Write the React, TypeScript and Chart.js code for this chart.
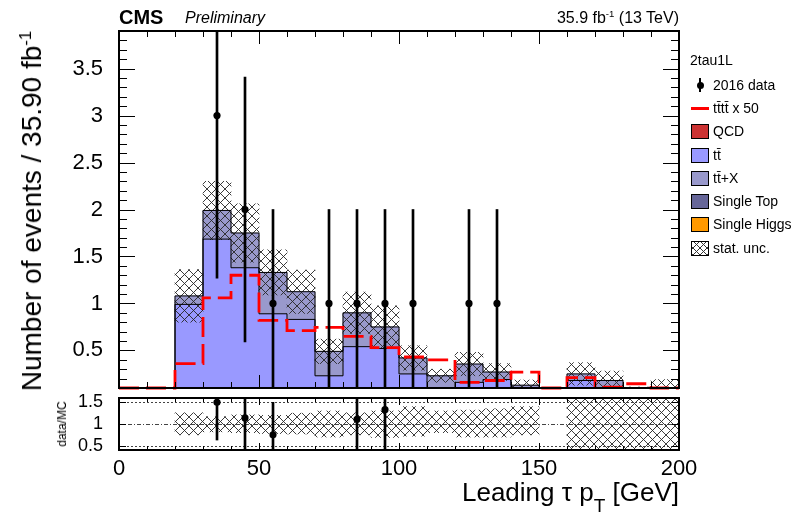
import React, { useEffect, useRef } from 'react';
import { Chart, registerables } from 'chart.js';
Chart.register(...registerables);

// ---- data ----
const binEdges = [0, 10, 20, 30, 40, 50, 60, 70, 80, 90, 100, 110, 120, 130, 140, 150, 160, 170, 180, 190, 200];
const ttbar = [0, 0, 0.99, 1.685, 1.38, 0.89, 0.83, 0.23, 0.54, 0.52, 0.25, 0.08, 0.16, 0.19, 0.05, 0, 0.18, 0.06, 0.02, 0.03];
const ttX = [0, 0, 0.09, 0.305, 0.37, 0.44, 0.295, 0.26, 0.36, 0.23, 0.17, 0.15, 0.195, 0.08, 0.08, 0, 0.07, 0.12, 0.03, 0.04];
const statUnc = [0, 0, 0.28, 0.31, 0.31, 0.24, 0.23, 0.13, 0.22, 0.225, 0.13, 0.07, 0.125, 0.09, 0.055, 0, 0.12, 0.1, 0.06, 0.12];
const tttt50 = [0, 0, 0.36, 1.06, 1.3, 0.82, 0.71, 0.745, 0.65, 0.53, 0.43, 0.4, 0.16, 0.18, 0.27, 0, 0.21, 0.11, 0.145, 0];

const dataX = [35, 45, 55, 75, 85, 95, 105, 125, 135];
const dataY = [3, 2, 1, 1, 1, 1, 1, 1, 1];
const dataErr = [1.73, 1.41, 1, 1, 1, 1, 1, 1, 1];

const ratioX = [35, 45, 55, 85, 95];
const ratioY = [1.5, 1.14, 0.75, 1.11, 1.33];
const ratioErr = [0.87, 0.81, 0.75, 1.11, 1.33];
const ratioBandLo = [null, null, 0.75, 0.82, 0.8, 0.78, 0.77, 0.7, 0.75, 0.69, 0.72, 0.8, 0.7, 0.7, 0.75, null, 0, 0, 0, 0];
const ratioBandHi = [null, null, 1.26, 1.17, 1.21, 1.2, 1.25, 1.3, 1.26, 1.3, 1.4, 1.3, 1.32, 1.35, 1.4, null, 2, 2, 2, 2];

const yTicksMain = [0.5, 1, 1.5, 2, 2.5, 3, 3.5];
const yTicksRatio = [0.5, 1, 1.5];
const xTicks = [0, 50, 100, 150, 200];

const Y_MIN = 0.1, Y_MAX = 3.9;
const R_MIN = 0.4, R_MAX = 1.6;
const FONT = "'Liberation Sans', Arial, Helvetica, sans-serif";

const COL_TT = '#9999ff';
const COL_TTX = '#9999cc';
const COL_ST = '#666699';
const COL_QCD = '#cc3333';
const COL_H = '#ff9900';

function hatch(size: number, color: string) {
  const c = document.createElement('canvas');
  c.width = size; c.height = size;
  const g = c.getContext('2d')!;
  g.strokeStyle = color; g.lineWidth = 1;
  g.beginPath();
  g.moveTo(0, 0); g.lineTo(size, size);
  g.moveTo(size, 0); g.lineTo(0, size);
  g.stroke();
  return g.createPattern(c, 'repeat');
}

function rangeStep(a: number, b: number, s: number) {
  const out: number[] = [];
  for (let v = a; v <= b + 1e-9; v += s) out.push(Math.round(v * 1000) / 1000);
  return out;
}

function framePlugin(cfg: any) {
  return {
    id: 'frameTicks',
    beforeDatasetsDraw(chart: any) {
      if (!cfg.refLines) return;
      const { ctx, chartArea: a, scales } = chart;
      ctx.save();
      ctx.strokeStyle = '#444';
      ctx.lineWidth = 1;
      for (const r of cfg.refLines) {
        ctx.setLineDash(r.dash);
        const py = Math.round(scales.y.getPixelForValue(r.v)) + 0.5;
        ctx.beginPath(); ctx.moveTo(a.left, py); ctx.lineTo(a.right, py); ctx.stroke();
      }
      ctx.restore();
    },
    afterDatasetsDraw(chart: any) {
      const { ctx, chartArea: a, scales } = chart;
      const xs = scales.x, ys = scales.y;
      ctx.save();
      ctx.strokeStyle = '#000';
      ctx.lineWidth = 1;
      ctx.beginPath();
      const xt = (vals: number[], len: number) => {
        for (const v of vals) {
          const px = Math.round(xs.getPixelForValue(v)) + 0.5;
          ctx.moveTo(px, a.bottom); ctx.lineTo(px, a.bottom - len);
          ctx.moveTo(px, a.top); ctx.lineTo(px, a.top + len);
        }
      };
      const yt = (vals: number[], len: number) => {
        for (const v of vals) {
          const py = Math.round(ys.getPixelForValue(v)) + 0.5;
          ctx.moveTo(a.left, py); ctx.lineTo(a.left + len, py);
          ctx.moveTo(a.right, py); ctx.lineTo(a.right - len, py);
        }
      };
      xt(cfg.xMinor, cfg.xMinorLen); xt(cfg.xMajor, cfg.xMajorLen);
      yt(cfg.yMinor, cfg.yMinorLen); yt(cfg.yMajor, cfg.yMajorLen);
      ctx.stroke();
      ctx.lineWidth = 2;
      ctx.strokeRect(a.left, a.top, a.right - a.left, a.bottom - a.top);
      ctx.restore();
    },
  };
}

const noPadY = (w: number) => (s: any) => { s.width = w; s.paddingTop = 0; s.paddingBottom = 0; };

export default function App() {
  const mainRef = useRef<HTMLCanvasElement>(null);
  const ratioRef = useRef<HTMLCanvasElement>(null);

  useEffect(() => {
    const centers = binEdges.slice(0, -1).map((e, i) => (e + binEdges[i + 1]) / 2);
    const total = ttbar.map((v, i) => v + ttX[i]);
    const hatchMain = hatch(9, 'rgba(40,40,40,0.9)');
    const hatchRatio = hatch(9, 'rgba(40,40,40,0.9)');

    const stepData = (vals: number[], clampMin?: number) =>
      binEdges.map((x, i) => {
        const v = vals[Math.min(i, vals.length - 1)];
        return { x, y: clampMin !== undefined ? Math.max(v, clampMin) : v };
      });

    const mainChart = new Chart(mainRef.current!, {
      type: 'bar',
      data: {
        datasets: [
          {
            type: 'scatter',
            data: dataX.map((x, i) => ({ x, y: dataY[i] })),
            backgroundColor: '#000', borderColor: '#000', pointRadius: 3.6, borderWidth: 0,
          } as any,
          {
            type: 'bar',
            data: dataX.map((x, i) => ({ x, y: [dataY[i] - dataErr[i], dataY[i] + dataErr[i]] })),
            backgroundColor: '#000', barThickness: 2, grouped: false, borderWidth: 0,
          },
          {
            type: 'line',
            data: stepData(tttt50, Y_MIN),
            borderColor: '#ff0000', borderWidth: 2.8, borderDash: [20, 7], stepped: 'before',
            pointRadius: 0, fill: false, clip: { left: 0, top: 0, right: 0, bottom: 3 },
          } as any,
          {
            type: 'line', data: stepData(total), borderColor: '#000', borderWidth: 1,
            stepped: 'before', pointRadius: 0, fill: false,
          } as any,
          {
            type: 'line', data: stepData(ttbar), borderColor: '#000', borderWidth: 1,
            stepped: 'before', pointRadius: 0, fill: false,
          } as any,
          {
            type: 'bar',
            data: centers.map((x, i) => ({ x, y: [total[i] - statUnc[i], total[i] + statUnc[i]] }))
              .filter((_, i) => total[i] > 0),
            backgroundColor: hatchMain as any, grouped: false, barPercentage: 1, categoryPercentage: 1, borderWidth: 0,
          },
          {
            type: 'bar',
            data: centers.map((x, i) => ({ x, y: [ttbar[i], total[i]] })).filter((_, i) => ttX[i] > 0),
            backgroundColor: COL_TTX, grouped: false, barPercentage: 1, categoryPercentage: 1, borderWidth: 0,
          },
          {
            type: 'bar',
            data: centers.map((x, i) => ({ x, y: [0, ttbar[i]] })).filter((_, i) => ttbar[i] > 0),
            backgroundColor: COL_TT, grouped: false, barPercentage: 1, categoryPercentage: 1, borderWidth: 0,
          },
        ],
      },
      options: {
        animation: false, responsive: false, devicePixelRatio: 1,
        layout: { padding: { left: 0, right: 118, top: 31, bottom: 7 } },
        plugins: { legend: { display: false }, tooltip: { enabled: false } },
        scales: {
          x: { type: 'linear', min: 0, max: 200, offset: false, display: false },
          y: {
            type: 'linear', min: Y_MIN, max: Y_MAX,
            grid: { display: false }, border: { display: false },
            afterBuildTicks: (s: any) => { s.ticks = yTicksMain.map((v) => ({ value: v })); },
            afterFit: noPadY(119),
            ticks: { color: '#000', padding: 8, autoSkip: false, font: { family: FONT, size: 22 }, callback: (v: any) => String(v) },
          },
        },
      } as any,
      plugins: [framePlugin({
        xMajor: xTicks, xMinor: rangeStep(0, 200, 10), xMajorLen: 13, xMinorLen: 6,
        yMajor: yTicksMain, yMinor: rangeStep(0.1, 3.9, 0.1), yMajorLen: 16, yMinorLen: 8,
      })],
    });

    const ratioChart = new Chart(ratioRef.current!, {
      type: 'bar',
      data: {
        datasets: [
          {
            type: 'scatter',
            data: ratioX.map((x, i) => ({ x, y: ratioY[i] })),
            backgroundColor: '#000', borderColor: '#000', pointRadius: 3.6, borderWidth: 0,
          } as any,
          {
            type: 'bar',
            data: ratioX.map((x, i) => ({ x, y: [ratioY[i] - ratioErr[i], ratioY[i] + ratioErr[i]] })),
            backgroundColor: '#000', barThickness: 2, grouped: false, borderWidth: 0,
          },
          {
            type: 'bar',
            data: binEdges.slice(0, -1).map((e, i) => ({ x: (e + binEdges[i + 1]) / 2, y: [ratioBandLo[i], ratioBandHi[i]] }))
              .filter((_, i) => ratioBandLo[i] !== null),
            backgroundColor: hatchRatio as any, grouped: false, barPercentage: 1, categoryPercentage: 1, borderWidth: 0,
          },
        ],
      },
      options: {
        animation: false, responsive: false, devicePixelRatio: 1,
        layout: { padding: { left: 0, right: 118, top: 8, bottom: 0 } },
        plugins: { legend: { display: false }, tooltip: { enabled: false } },
        scales: {
          x: {
            type: 'linear', min: 0, max: 200, offset: false,
            grid: { display: false }, border: { display: false },
            afterBuildTicks: (s: any) => { s.ticks = xTicks.map((v) => ({ value: v })); },
            afterFit: (s: any) => { s.height = 32; s.paddingLeft = 0; s.paddingRight = 0; },
            ticks: { color: '#000', padding: -2, autoSkip: false, maxRotation: 0, font: { family: FONT, size: 22 }, callback: (v: any) => String(v) },
          },
          y: {
            type: 'linear', min: R_MIN, max: R_MAX,
            grid: { display: false }, border: { display: false },
            afterBuildTicks: (s: any) => { s.ticks = yTicksRatio.map((v) => ({ value: v })); },
            afterFit: noPadY(119),
            ticks: { color: '#000', padding: 8, autoSkip: false, font: { family: FONT, size: 18 }, callback: (v: any) => String(v) },
          },
        },
      } as any,
      plugins: [framePlugin({
        xMajor: xTicks, xMinor: rangeStep(0, 200, 10), xMajorLen: 7, xMinorLen: 4,
        yMajor: yTicksRatio, yMinor: [], yMajorLen: 7, yMinorLen: 0,
        refLines: [{ v: 0.5, dash: [2, 2] }, { v: 1.5, dash: [2, 2] }, { v: 1, dash: [4, 2, 1, 2] }],
      })],
    });

    return () => { mainChart.destroy(); ratioChart.destroy(); };
  }, []);

  const txt = (size: number, extra: any = {}) => ({
    position: 'absolute' as const, fontFamily: FONT, fontSize: size, lineHeight: 1, whiteSpace: 'nowrap' as const, color: '#000', ...extra,
  });
  const sup = { fontSize: '0.6em', verticalAlign: 'super', lineHeight: 0 } as any;
  const legendRows = [
    { y: 131, label: 'QCD', color: COL_QCD },
    { y: 155, label: 'tt\u0304', color: COL_TT },
    { y: 178, label: 'tt\u0304+X', color: COL_TTX },
    { y: 201, label: 'Single Top', color: COL_ST },
    { y: 224, label: 'Single Higgs', color: COL_H },
  ];

  return (
    <div style={{ position: 'fixed', left: 0, top: 0, width: 797, height: 515, background: '#fff', overflow: 'hidden' }}>
      <canvas ref={mainRef} width={797} height={395} style={{ position: 'absolute', left: 0, top: 0, width: 797, height: 395 }} />
      <canvas ref={ratioRef} width={797} height={92} style={{ position: 'absolute', left: 0, top: 390, width: 797, height: 92 }} />

      <div style={txt(20, { left: 119, top: 7, fontWeight: 'bold' })}>CMS</div>
      <div style={txt(16, { left: 185, top: 10, fontStyle: 'italic' })}>Preliminary</div>
      <div style={txt(16, { right: 118, top: 10 })}>35.9 fb<span style={sup}>-1</span> (13 TeV)</div>

      <div style={txt(28, { left: 32, top: 211, transform: 'translate(-50%, -50%) rotate(-90deg)' })}>
        Number of events / 35.90 fb<span style={sup}>-1</span>
      </div>
      <div style={txt(12, { left: 62, top: 424, transform: 'translate(-50%, -50%) rotate(-90deg)' })}>data/MC</div>

      <div style={txt(26, { right: 118, top: 479 })}>
        Leading τ p<span style={{ fontSize: 19, position: 'relative', top: 11 }}>T</span> [GeV]
      </div>

      {/* legend */}
      <div style={txt(14, { left: 690, top: 53 })}>2tau1L</div>
      <div style={{ position: 'absolute', left: 699, top: 78, width: 2, height: 14, background: '#000' }} />
      <div style={{ position: 'absolute', left: 696.5, top: 81.5, width: 7, height: 7, borderRadius: '50%', background: '#000' }} />
      <div style={txt(14, { left: 713, top: 78 })}>2016 data</div>
      <div style={{ position: 'absolute', left: 691, top: 106.5, width: 18, height: 3, background: '#ff0000' }} />
      <div style={txt(14, { left: 713, top: 101 })}>tt̄tt̄ x 50</div>
      {legendRows.map((r) => (
        <React.Fragment key={r.label}>
          <div style={{ position: 'absolute', left: 691, top: r.y - 7, width: 18, height: 15, boxSizing: 'border-box', border: '1px solid #000', background: r.color }} />
          <div style={txt(14, { left: 713, top: r.y - 7 })}>{r.label}</div>
        </React.Fragment>
      ))}
      <div style={{
        position: 'absolute', left: 691, top: 241, width: 18, height: 15, boxSizing: 'border-box', border: '1px solid #000',
        backgroundImage: 'repeating-linear-gradient(45deg, #333 0 1px, transparent 1px 5px), repeating-linear-gradient(-45deg, #333 0 1px, transparent 1px 5px)',
      }} />
      <div style={txt(14, { left: 713, top: 241 })}>stat. unc.</div>
    </div>
  );
}
